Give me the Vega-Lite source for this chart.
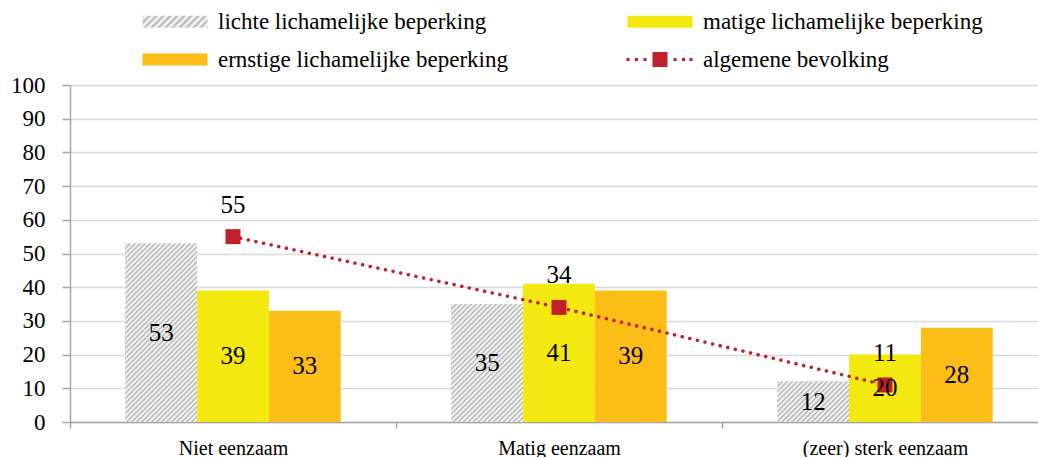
{
  "$schema": "https://vega.github.io/schema/vega-lite/v6.json",
  "width": 968,
  "height": 337,
  "autosize": {"type": "none"},
  "padding": {"left": 70, "top": 85, "right": 0, "bottom": 35},
  "background": "white",
  "config": {
    "font": "Liberation Serif, Times New Roman, serif",
    "view": {"stroke": null},
    "axis": {"labelFont": "Liberation Serif, Times New Roman, serif", "labelColor": "#000000"},
    "legend": {"labelFont": "Liberation Serif, Times New Roman, serif"},
    "text": {"font": "Liberation Serif, Times New Roman, serif"}
  },
  "params": [
    {"name": "hatchStops", "value": [
      {"offset": 0.00, "color": "#b4b4b4"}, {"offset": 0.01, "color": "#ffffff"},
      {"offset": 0.02, "color": "#b4b4b4"}, {"offset": 0.03, "color": "#ffffff"},
      {"offset": 0.04, "color": "#b4b4b4"}, {"offset": 0.05, "color": "#ffffff"},
      {"offset": 0.06, "color": "#b4b4b4"}, {"offset": 0.07, "color": "#ffffff"},
      {"offset": 0.08, "color": "#b4b4b4"}, {"offset": 0.09, "color": "#ffffff"},
      {"offset": 0.10, "color": "#b4b4b4"}, {"offset": 0.11, "color": "#ffffff"},
      {"offset": 0.12, "color": "#b4b4b4"}, {"offset": 0.13, "color": "#ffffff"},
      {"offset": 0.14, "color": "#b4b4b4"}, {"offset": 0.15, "color": "#ffffff"},
      {"offset": 0.16, "color": "#b4b4b4"}, {"offset": 0.17, "color": "#ffffff"},
      {"offset": 0.18, "color": "#b4b4b4"}, {"offset": 0.19, "color": "#ffffff"},
      {"offset": 0.20, "color": "#b4b4b4"}, {"offset": 0.21, "color": "#ffffff"},
      {"offset": 0.22, "color": "#b4b4b4"}, {"offset": 0.23, "color": "#ffffff"},
      {"offset": 0.24, "color": "#b4b4b4"}, {"offset": 0.25, "color": "#ffffff"},
      {"offset": 0.26, "color": "#b4b4b4"}, {"offset": 0.27, "color": "#ffffff"},
      {"offset": 0.28, "color": "#b4b4b4"}, {"offset": 0.29, "color": "#ffffff"},
      {"offset": 0.30, "color": "#b4b4b4"}, {"offset": 0.31, "color": "#ffffff"},
      {"offset": 0.32, "color": "#b4b4b4"}, {"offset": 0.33, "color": "#ffffff"},
      {"offset": 0.34, "color": "#b4b4b4"}, {"offset": 0.35, "color": "#ffffff"},
      {"offset": 0.36, "color": "#b4b4b4"}, {"offset": 0.37, "color": "#ffffff"},
      {"offset": 0.38, "color": "#b4b4b4"}, {"offset": 0.39, "color": "#ffffff"},
      {"offset": 0.40, "color": "#b4b4b4"}, {"offset": 0.41, "color": "#ffffff"},
      {"offset": 0.42, "color": "#b4b4b4"}, {"offset": 0.43, "color": "#ffffff"},
      {"offset": 0.44, "color": "#b4b4b4"}, {"offset": 0.45, "color": "#ffffff"},
      {"offset": 0.46, "color": "#b4b4b4"}, {"offset": 0.47, "color": "#ffffff"},
      {"offset": 0.48, "color": "#b4b4b4"}, {"offset": 0.49, "color": "#ffffff"},
      {"offset": 0.50, "color": "#b4b4b4"}, {"offset": 0.51, "color": "#ffffff"},
      {"offset": 0.52, "color": "#b4b4b4"}, {"offset": 0.53, "color": "#ffffff"},
      {"offset": 0.54, "color": "#b4b4b4"}, {"offset": 0.55, "color": "#ffffff"},
      {"offset": 0.56, "color": "#b4b4b4"}, {"offset": 0.57, "color": "#ffffff"},
      {"offset": 0.58, "color": "#b4b4b4"}, {"offset": 0.59, "color": "#ffffff"},
      {"offset": 0.60, "color": "#b4b4b4"}, {"offset": 0.61, "color": "#ffffff"},
      {"offset": 0.62, "color": "#b4b4b4"}, {"offset": 0.63, "color": "#ffffff"},
      {"offset": 0.64, "color": "#b4b4b4"}, {"offset": 0.65, "color": "#ffffff"},
      {"offset": 0.66, "color": "#b4b4b4"}, {"offset": 0.67, "color": "#ffffff"},
      {"offset": 0.68, "color": "#b4b4b4"}, {"offset": 0.69, "color": "#ffffff"},
      {"offset": 0.70, "color": "#b4b4b4"}, {"offset": 0.71, "color": "#ffffff"},
      {"offset": 0.72, "color": "#b4b4b4"}, {"offset": 0.73, "color": "#ffffff"},
      {"offset": 0.74, "color": "#b4b4b4"}, {"offset": 0.75, "color": "#ffffff"},
      {"offset": 0.76, "color": "#b4b4b4"}, {"offset": 0.77, "color": "#ffffff"},
      {"offset": 0.78, "color": "#b4b4b4"}, {"offset": 0.79, "color": "#ffffff"},
      {"offset": 0.80, "color": "#b4b4b4"}, {"offset": 0.81, "color": "#ffffff"},
      {"offset": 0.82, "color": "#b4b4b4"}, {"offset": 0.83, "color": "#ffffff"},
      {"offset": 0.84, "color": "#b4b4b4"}, {"offset": 0.85, "color": "#ffffff"},
      {"offset": 0.86, "color": "#b4b4b4"}, {"offset": 0.87, "color": "#ffffff"},
      {"offset": 0.88, "color": "#b4b4b4"}, {"offset": 0.89, "color": "#ffffff"},
      {"offset": 0.90, "color": "#b4b4b4"}, {"offset": 0.91, "color": "#ffffff"},
      {"offset": 0.92, "color": "#b4b4b4"}, {"offset": 0.93, "color": "#ffffff"},
      {"offset": 0.94, "color": "#b4b4b4"}, {"offset": 0.95, "color": "#ffffff"},
      {"offset": 0.96, "color": "#b4b4b4"}, {"offset": 0.97, "color": "#ffffff"},
      {"offset": 0.98, "color": "#b4b4b4"}, {"offset": 0.99, "color": "#ffffff"},
      {"offset": 1.00, "color": "#b4b4b4"}
    ]},
    {"name": "hatch1", "expr": "{gradient: 'linear', x1: 0, y1: 0, x2: 0.4844, y2: 1.2049, stops: hatchStops}"},
    {"name": "hatch2", "expr": "{gradient: 'linear', x1: 0, y1: 0, x2: 0.9414, y2: 1.5464, stops: hatchStops}"},
    {"name": "hatch3", "expr": "{gradient: 'linear', x1: 0, y1: 0, x2: 2.6431, y2: 1.4886, stops: hatchStops}"},
    {"name": "hatchLeg", "expr": "{gradient: 'linear', x1: 0, y1: 0, x2: 5.207, y2: 0.9613, stops: hatchStops}"}
  ],
  "datasets": {
    "bars": [
      {"categorie": "Niet eenzaam", "groep": "lichte lichamelijke beperking", "waarde": 53},
      {"categorie": "Niet eenzaam", "groep": "matige lichamelijke beperking", "waarde": 39},
      {"categorie": "Niet eenzaam", "groep": "ernstige lichamelijke beperking", "waarde": 33},
      {"categorie": "Matig eenzaam", "groep": "lichte lichamelijke beperking", "waarde": 35},
      {"categorie": "Matig eenzaam", "groep": "matige lichamelijke beperking", "waarde": 41},
      {"categorie": "Matig eenzaam", "groep": "ernstige lichamelijke beperking", "waarde": 39},
      {"categorie": "(zeer) sterk eenzaam", "groep": "lichte lichamelijke beperking", "waarde": 12},
      {"categorie": "(zeer) sterk eenzaam", "groep": "matige lichamelijke beperking", "waarde": 20},
      {"categorie": "(zeer) sterk eenzaam", "groep": "ernstige lichamelijke beperking", "waarde": 28}
    ],
    "lijn": [
      {"categorie": "Niet eenzaam", "groep": "algemene bevolking", "waarde": 55},
      {"categorie": "Matig eenzaam", "groep": "algemene bevolking", "waarde": 34},
      {"categorie": "(zeer) sterk eenzaam", "groep": "algemene bevolking", "waarde": 11}
    ]
  },
  "encoding": {
    "x": {
      "field": "categorie",
      "type": "nominal",
      "sort": ["Niet eenzaam", "Matig eenzaam", "(zeer) sterk eenzaam"],
      "scale": {"range": [0, 978], "paddingInner": 0, "paddingOuter": 0},
      "axis": {
        "title": null,
        "labelAngle": 0,
        "labelFontSize": 20,
        "labelPadding": 10,
        "labelBaseline": "top",
        "tickBand": "extent",
        "tickSize": 6,
        "tickColor": "#a6a6a6",
        "tickWidth": 1.5,
        "domainColor": "#a6a6a6",
        "domainWidth": 1.5,
        "grid": false
      }
    }
  },
  "layer": [
    {
      "data": {"name": "bars"},
      "mark": {"type": "bar"},
      "encoding": {
        "xOffset": {
          "field": "groep",
          "type": "nominal",
          "sort": ["lichte lichamelijke beperking", "matige lichamelijke beperking", "ernstige lichamelijke beperking"],
          "scale": {"paddingInner": 0, "paddingOuter": 0.77}
        },
        "y": {
          "field": "waarde",
          "type": "quantitative",
          "scale": {"domain": [0, 100], "nice": false},
          "axis": {
            "title": null,
            "values": [0, 10, 20, 30, 40, 50, 60, 70, 80, 90, 100],
            "labelFontSize": 23,
            "labelPadding": 17,
            "tickSize": 8,
            "tickColor": "#a6a6a6",
            "tickWidth": 1.5,
            "domainColor": "#a6a6a6",
            "domainWidth": 1.5,
            "gridColor": "#dadada",
            "gridWidth": 1.5
          }
        },
        "color": {
          "field": "groep",
          "type": "nominal",
          "scale": {
            "domain": ["lichte lichamelijke beperking", "matige lichamelijke beperking", "ernstige lichamelijke beperking", "algemene bevolking"],
            "range": [{"expr": "hatchLeg"}, "#f3e90e", "#fbbd16", "#c0202a"]
          },
          "legend": {
            "title": null,
            "orient": "none",
            "direction": "horizontal",
            "padding": 0,
            "legendX": 66,
            "legendY": -75,
            "columns": 2,
            "columnPadding": 113,
            "rowPadding": 14,
            "labelFontSize": 23,
            "labelColor": "#000000",
            "labelLimit": 500,
            "symbolSize": 100,
            "labelOffset": 59,
            "symbolStrokeWidth": 0,
            "encode": {
              "symbols": {
                "update": {
                  "shape": {"signal": "datum.value === 'algemene bevolking' ? 'M-1.2,-0.3h0.6v0.6h-0.6Z M0.5,-0.3h0.6v0.6h-0.6Z M2.2,-0.3h0.6v0.6h-0.6Z M4,-1.5H7V1.5H4Z M8.2,-0.3h0.6v0.6h-0.6Z M9.9,-0.3h0.6v0.6h-0.6Z M11.4,-0.3h0.6v0.6h-0.6Z' : 'M-1,-1.2H12V1.2H-1Z'"},
                  "fill": {"signal": "scale('color', datum.value)"},
                  "stroke": {"value": "transparent"},
                  "strokeWidth": {"value": 0},
                  "opacity": {"value": 1}
                }
              }
            }
          }
        }
      }
    },
    {
      "data": {"name": "bars"},
      "transform": [{"filter": "datum.groep === 'lichte lichamelijke beperking'"}],
      "mark": {"type": "bar"},
      "encoding": {
        "xOffset": {
          "field": "groep",
          "type": "nominal",
          "sort": ["lichte lichamelijke beperking", "matige lichamelijke beperking", "ernstige lichamelijke beperking"]
        },
        "y": {"field": "waarde", "type": "quantitative", "scale": {"domain": [0, 100], "nice": false}, "axis": null},
        "fill": {
          "condition": [
            {"test": "datum.categorie === 'Niet eenzaam'", "value": {"expr": "hatch1"}},
            {"test": "datum.categorie === 'Matig eenzaam'", "value": {"expr": "hatch2"}}
          ],
          "value": {"expr": "hatch3"}
        }
      }
    },
    {
      "data": {"name": "lijn"},
      "mark": {"type": "line", "strokeDash": [0.1, 7.7], "strokeCap": "round", "strokeWidth": 3.5},
      "encoding": {
        "y": {"field": "waarde", "type": "quantitative", "scale": {"domain": [0, 100], "nice": false}, "axis": null},
        "color": {"field": "groep", "type": "nominal"}
      }
    },
    {
      "data": {"name": "lijn"},
      "mark": {"type": "point", "shape": "square", "filled": true, "size": 225, "opacity": 1},
      "encoding": {
        "y": {"field": "waarde", "type": "quantitative", "scale": {"domain": [0, 100], "nice": false}, "axis": null},
        "color": {"field": "groep", "type": "nominal"}
      }
    },
    {
      "data": {"name": "bars"},
      "mark": {"type": "text", "fontSize": 25, "baseline": "middle", "align": "center", "color": "#000000", "font": "Liberation Serif, Times New Roman, serif"},
      "encoding": {
        "xOffset": {
          "field": "groep",
          "type": "nominal",
          "sort": ["lichte lichamelijke beperking", "matige lichamelijke beperking", "ernstige lichamelijke beperking"]
        },
        "y": {"field": "waarde", "type": "quantitative", "scale": {"domain": [0, 200], "nice": false}, "axis": null},
        "text": {"field": "waarde", "type": "quantitative"}
      }
    },
    {
      "data": {"name": "lijn"},
      "mark": {"type": "text", "fontSize": 25, "baseline": "middle", "align": "center", "dy": -32, "color": "#000000", "font": "Liberation Serif, Times New Roman, serif"},
      "encoding": {
        "y": {"field": "waarde", "type": "quantitative", "scale": {"domain": [0, 100], "nice": false}, "axis": null},
        "text": {"field": "waarde", "type": "quantitative"}
      }
    }
  ],
  "resolve": {"scale": {"y": "independent"}}
}
